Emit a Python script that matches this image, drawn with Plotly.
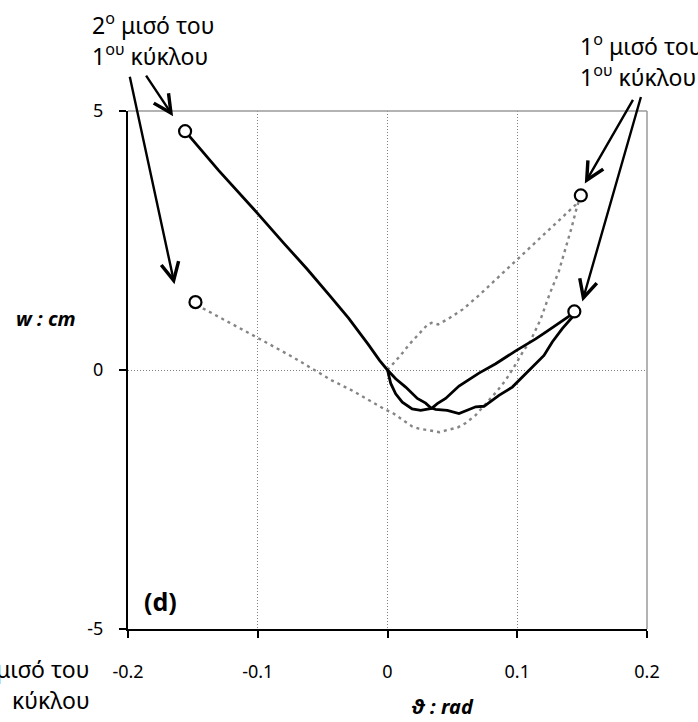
import plotly.graph_objects as go

# Rotation theta (rad) vs. displacement w (cm)
# solid record: first half of the cycle (origin -> right end)
sol_th_1 = [0.0, 0.0063, 0.014, 0.023, 0.0294, 0.0333, 0.0371, 0.0461, 0.0551, 0.0628,
            0.068, 0.0744, 0.0808, 0.0859, 0.0962, 0.1013, 0.1065, 0.1142, 0.1206, 0.127,
            0.1347, 0.1424, 0.144]
sol_w_1 = [0.0, -0.17, -0.33, -0.55, -0.64, -0.73, -0.76, -0.78, -0.84, -0.77,
           -0.71, -0.70, -0.58, -0.49, -0.33, -0.20, -0.07, 0.12, 0.28, 0.54,
           0.80, 1.02, 1.13]
# solid record: second half (right end -> origin -> left end)
sol_th_2 = [0.144, 0.140, 0.122, 0.1142, 0.0988, 0.0834, 0.0705, 0.0628, 0.0551, 0.0448,
            0.0384, 0.034, 0.0256, 0.019, 0.0114, 0.0063, 0.0025, 0.0, -0.006, -0.015,
            -0.03, -0.045, -0.062, -0.08, -0.1, -0.13, -0.156]
sol_w_2 = [1.13, 1.04, 0.73, 0.60, 0.37, 0.12, -0.06, -0.19, -0.31, -0.55,
           -0.65, -0.74, -0.78, -0.75, -0.62, -0.46, -0.26, 0.0, 0.18, 0.50,
           1.00, 1.45, 1.95, 2.45, 3.02, 3.85, 4.61]
# dotted record: first half (origin -> right end)
dot_th_1 = [0.0, 0.005, 0.010, 0.017, 0.024, 0.031, 0.034, 0.039, 0.047, 0.058,
            0.070, 0.084, 0.099, 0.115, 0.131, 0.145, 0.149]
dot_w_1 = [0.0, 0.13, 0.28, 0.50, 0.70, 0.88, 0.91, 0.88, 0.99, 1.17,
           1.43, 1.76, 2.12, 2.50, 2.87, 3.19, 3.37]
# dotted record: second half (right end -> left end)
dot_th_2 = [0.149, 0.146, 0.142, 0.137, 0.132, 0.125, 0.118, 0.110, 0.105, 0.099,
            0.096, 0.091, 0.084, 0.076, 0.068, 0.060, 0.054, 0.046, 0.040, 0.031,
            0.024, 0.019, 0.011, 0.004, -0.002, -0.012, -0.027, -0.043, -0.056, -0.073,
            -0.1, -0.122, -0.143, -0.148]
dot_w_2 = [3.37, 3.15, 2.76, 2.35, 1.90, 1.47, 0.98, 0.55, 0.38, 0.12,
           0.0, -0.20, -0.42, -0.65, -0.87, -1.03, -1.11, -1.16, -1.20, -1.16,
           -1.13, -1.09, -0.96, -0.83, -0.76, -0.62, -0.40, -0.20, 0.0, 0.25,
           0.62, 0.92, 1.20, 1.31]

x_ticks = [-0.2, -0.1, 0, 0.1, 0.2]
x_tick_text = ["-0.2", "-0.1", "0", "0.1", "0.2"]
y_ticks = [-5, 0, 5]
y_tick_text = ["-5", "0", "5"]

W, H = 698, 722
ML, MR, MT, MB = 128, 51, 111, 93
PW, PH = W - ML - MR, H - MT - MB


def px(x):
    return (x - ML) / PW


def py(y):
    return (H - MB - y) / PH


fig = go.Figure()
solid = dict(color="black", width=2.8)
dotted = dict(color="#858585", width=2.4, dash="3px,4px")

fig.add_trace(go.Scatter(x=dot_th_1, y=dot_w_1, mode="lines", line=dotted))
fig.add_trace(go.Scatter(x=dot_th_2, y=dot_w_2, mode="lines", line=dotted))
fig.add_trace(go.Scatter(x=sol_th_1, y=sol_w_1, mode="lines", line=solid))
fig.add_trace(go.Scatter(x=sol_th_2, y=sol_w_2, mode="lines", line=solid))

# open circles at the end of each half cycle
end_x = [sol_th_1[-1], sol_th_2[-1], dot_th_1[-1], dot_th_2[-1]]
end_y = [sol_w_1[-1], sol_w_2[-1], dot_w_1[-1], dot_w_2[-1]]
fig.add_trace(go.Scatter(
    x=end_x, y=end_y, mode="markers",
    marker=dict(symbol="circle", size=12, color="white",
                line=dict(color="black", width=2.2)),
))

axis_common = dict(
    showgrid=True, gridcolor="#808080", gridwidth=1, griddash="1px,2px",
    zeroline=False, showline=True, linecolor="black", linewidth=2,
    ticks="outside", ticklen=7, tickwidth=1.5, tickcolor="black",
    tickfont=dict(family="Noto Sans", size=18, color="black"),
)
fig.update_xaxes(range=[-0.2, 0.2], tickvals=x_ticks, ticktext=x_tick_text,
                 ticklabelstandoff=18, **axis_common)
fig.update_yaxes(range=[-5, 5], tickvals=y_ticks, ticktext=y_tick_text,
                 ticklabelstandoff=12, **axis_common)

# top and right frame of the plot area
fig.add_shape(type="line", xref="paper", yref="paper", x0=0, x1=1, y0=1, y1=1,
              line=dict(color="#9a9a9a", width=1.5))
fig.add_shape(type="line", xref="paper", yref="paper", x0=1, x1=1, y0=0, y1=1,
              line=dict(color="#9a9a9a", width=1.5))

ann = []
txt_font = dict(family="Noto Sans", size=23, color="black")


def label(text, x, y, xanchor="left", font=txt_font):
    ann.append(dict(text=text, x=px(x), y=py(y), xref="paper", yref="paper",
                    xanchor=xanchor, yanchor="middle", showarrow=False, font=font))


label("2<sup>ο</sup> μισό του", 90, 24)
label("1<sup>ου</sup> κύκλου", 90, 55)
label("1<sup>ο</sup> μισό του", 578, 45)
label("1<sup>ου</sup> κύκλου", 578, 76)
label("2<sup>ο</sup> μισό του", 92, 668, xanchor="right")
label("κύκλου", 92, 700, xanchor="right")

title_font = dict(family="Noto Sans", size=20, color="black")
label("<b><i>w : cm</i></b>", 46, 318, xanchor="center", font=title_font)
label("<b><i>ϑ : rad</i></b>", 442, 706, xanchor="center", font=title_font)
label("<b>(d)</b>", 160, 601, xanchor="center",
      font=dict(family="Noto Sans", size=25, color="black"))


def arrow(x, y, dx, dy, ax, ay):
    ann.append(dict(x=x, y=y, xref="x", yref="y", text="", showarrow=True,
                    arrowhead=5, arrowsize=1.45, arrowwidth=2.4, arrowcolor="black",
                    xshift=dx, yshift=dy, ax=ax, ay=ay, standoff=0))


arrow(sol_th_2[-1], sol_w_2[-1], -12, 15, -28, -42)
arrow(dot_th_2[-1], dot_w_2[-1], -21, 18, -45, -209)
arrow(dot_th_1[-1], dot_w_1[-1], 4, 12, 49, -85)
arrow(sol_th_1[-1], sol_w_1[-1], 8, 10, 59, -206)

fig.update_layout(
    width=W, height=H,
    margin=dict(l=ML, r=MR, t=MT, b=MB),
    paper_bgcolor="white", plot_bgcolor="white",
    showlegend=False, annotations=ann,
    font=dict(family="Noto Sans", size=18, color="black"),
)

fig.write_html("out.html")
